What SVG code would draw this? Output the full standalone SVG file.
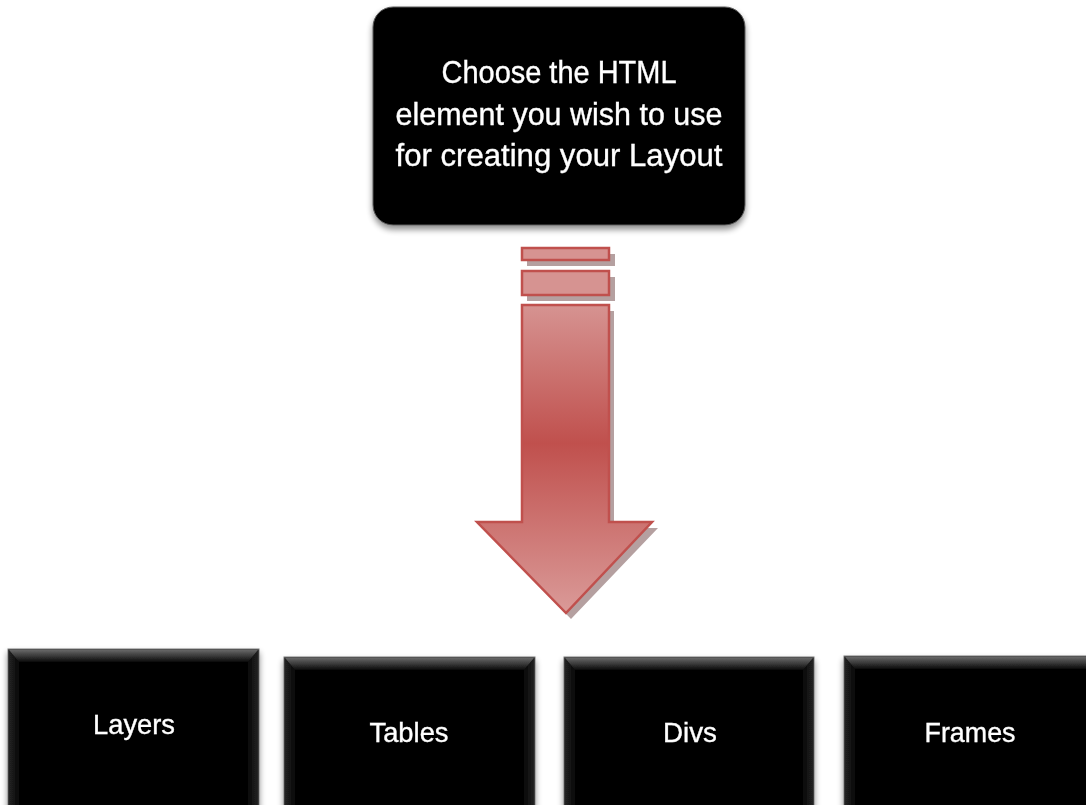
<svg xmlns="http://www.w3.org/2000/svg" width="1086" height="805" viewBox="0 0 1086 805">
<defs>
<style>
.lbl{font-family:"Liberation Sans",Arial,sans-serif;fill:#ffffff;stroke:#ffffff;stroke-width:0.35;text-anchor:middle}
.top{font-size:32px}
.bot{font-size:28px}
.box{fill:#060606;stroke:#7a7a7a;stroke-width:1}
.sh{fill:#9c8080;opacity:0.75}
.ar{fill:url(#arrowGrad);stroke:#c0504d;stroke-width:2.5;stroke-linejoin:miter}
.bar{fill:#d69391;stroke:#c0504d;stroke-width:2.5}
</style>
<linearGradient id="arrowGrad" gradientUnits="userSpaceOnUse" x1="0" y1="305" x2="0" y2="612">
<stop offset="0" stop-color="#d69391"/>
<stop offset="0.45" stop-color="#c0504d"/>
<stop offset="1" stop-color="#da9a98"/>
</linearGradient>
<linearGradient id="bevelTop" x1="0" y1="0" x2="0" y2="1">
<stop offset="0" stop-color="#6a6a6a"/>
<stop offset="1" stop-color="#0a0a0a"/>
</linearGradient>
<linearGradient id="bevelLeft" x1="0" y1="0" x2="1" y2="0">
<stop offset="0" stop-color="#3a3a3a"/>
<stop offset="1" stop-color="#060606"/>
</linearGradient>
<linearGradient id="bevelRight" x1="1" y1="0" x2="0" y2="0">
<stop offset="0" stop-color="#3a3a3a"/>
<stop offset="1" stop-color="#060606"/>
</linearGradient>
<filter id="soft" x="-10%" y="-10%" width="120%" height="130%">
<feGaussianBlur in="SourceAlpha" stdDeviation="3"/>
<feOffset dx="0" dy="4" result="b"/>
<feComponentTransfer><feFuncA type="linear" slope="0.45"/></feComponentTransfer>
<feMerge><feMergeNode/><feMergeNode in="SourceGraphic"/></feMerge>
</filter>
</defs>
<rect width="1086" height="805" fill="#ffffff"/>

<g id="node-top" filter="url(#soft)">
<rect x="373" y="7" width="372" height="218" rx="20" ry="20" fill="#050505" stroke="#5a5a5a" stroke-width="1"/>
<text class="lbl top" x="559" y="83" textLength="235" lengthAdjust="spacingAndGlyphs">Choose the HTML</text>
<text class="lbl top" x="559" y="125" textLength="327" lengthAdjust="spacingAndGlyphs">element you wish to use</text>
<text class="lbl top" x="559" y="166" textLength="327" lengthAdjust="spacingAndGlyphs">for creating your Layout</text>
</g>

<g id="connectors">
<rect class="sh" x="527" y="254" width="88" height="12"/>
<rect class="sh" x="527" y="277" width="88" height="24"/>
<polygon class="sh" points="528,311 614,311 614,528 658,528 571,619 483,528 528,528"/>
<rect class="bar" x="522" y="248" width="87" height="12"/>
<rect class="bar" x="522" y="271" width="87" height="24"/>
<polygon class="ar" points="522,305 609,305 609,522 652,522 566,613 477,522 522,522"/>
</g>

<g id="node-layers" filter="url(#soft)">
<rect class="box" x="8" y="649" width="251" height="170"/>
<polygon points="8.5,649.5 258.5,649.5 248,662 19,662" fill="url(#bevelTop)"/>
<polygon points="8.5,649.5 19,662 19,805 8.5,805" fill="url(#bevelLeft)" opacity="0.6"/>
<polygon points="258.5,649.5 248,662 248,805 258.5,805" fill="url(#bevelRight)" opacity="0.6"/>
<text class="lbl bot" x="134" y="734" textLength="82" lengthAdjust="spacingAndGlyphs">Layers</text>
</g>

<g id="node-tables" filter="url(#soft)">
<rect class="box" x="284" y="657" width="251" height="170"/>
<polygon points="284.5,657.5 534.5,657.5 524,670 295,670" fill="url(#bevelTop)"/>
<polygon points="284.5,657.5 295,670 295,805 284.5,805" fill="url(#bevelLeft)" opacity="0.6"/>
<polygon points="534.5,657.5 524,670 524,805 534.5,805" fill="url(#bevelRight)" opacity="0.6"/>
<text class="lbl bot" x="409" y="742" textLength="79" lengthAdjust="spacingAndGlyphs">Tables</text>
</g>

<g id="node-divs" filter="url(#soft)">
<rect class="box" x="564" y="657" width="250" height="170"/>
<polygon points="564.5,657.5 813.5,657.5 803,670 575,670" fill="url(#bevelTop)"/>
<polygon points="564.5,657.5 575,670 575,805 564.5,805" fill="url(#bevelLeft)" opacity="0.6"/>
<polygon points="813.5,657.5 803,670 803,805 813.5,805" fill="url(#bevelRight)" opacity="0.6"/>
<text class="lbl bot" x="690" y="742" textLength="54" lengthAdjust="spacingAndGlyphs">Divs</text>
</g>

<g id="node-frames" filter="url(#soft)">
<rect class="box" x="844" y="656" width="252" height="170"/>
<polygon points="844.5,656.5 1095.5,656.5 1085,669 855,669" fill="url(#bevelTop)"/>
<polygon points="844.5,656.5 855,669 855,805 844.5,805" fill="url(#bevelLeft)" opacity="0.6"/>
<text class="lbl bot" x="970" y="742" textLength="91" lengthAdjust="spacingAndGlyphs">Frames</text>
</g>
</svg>
